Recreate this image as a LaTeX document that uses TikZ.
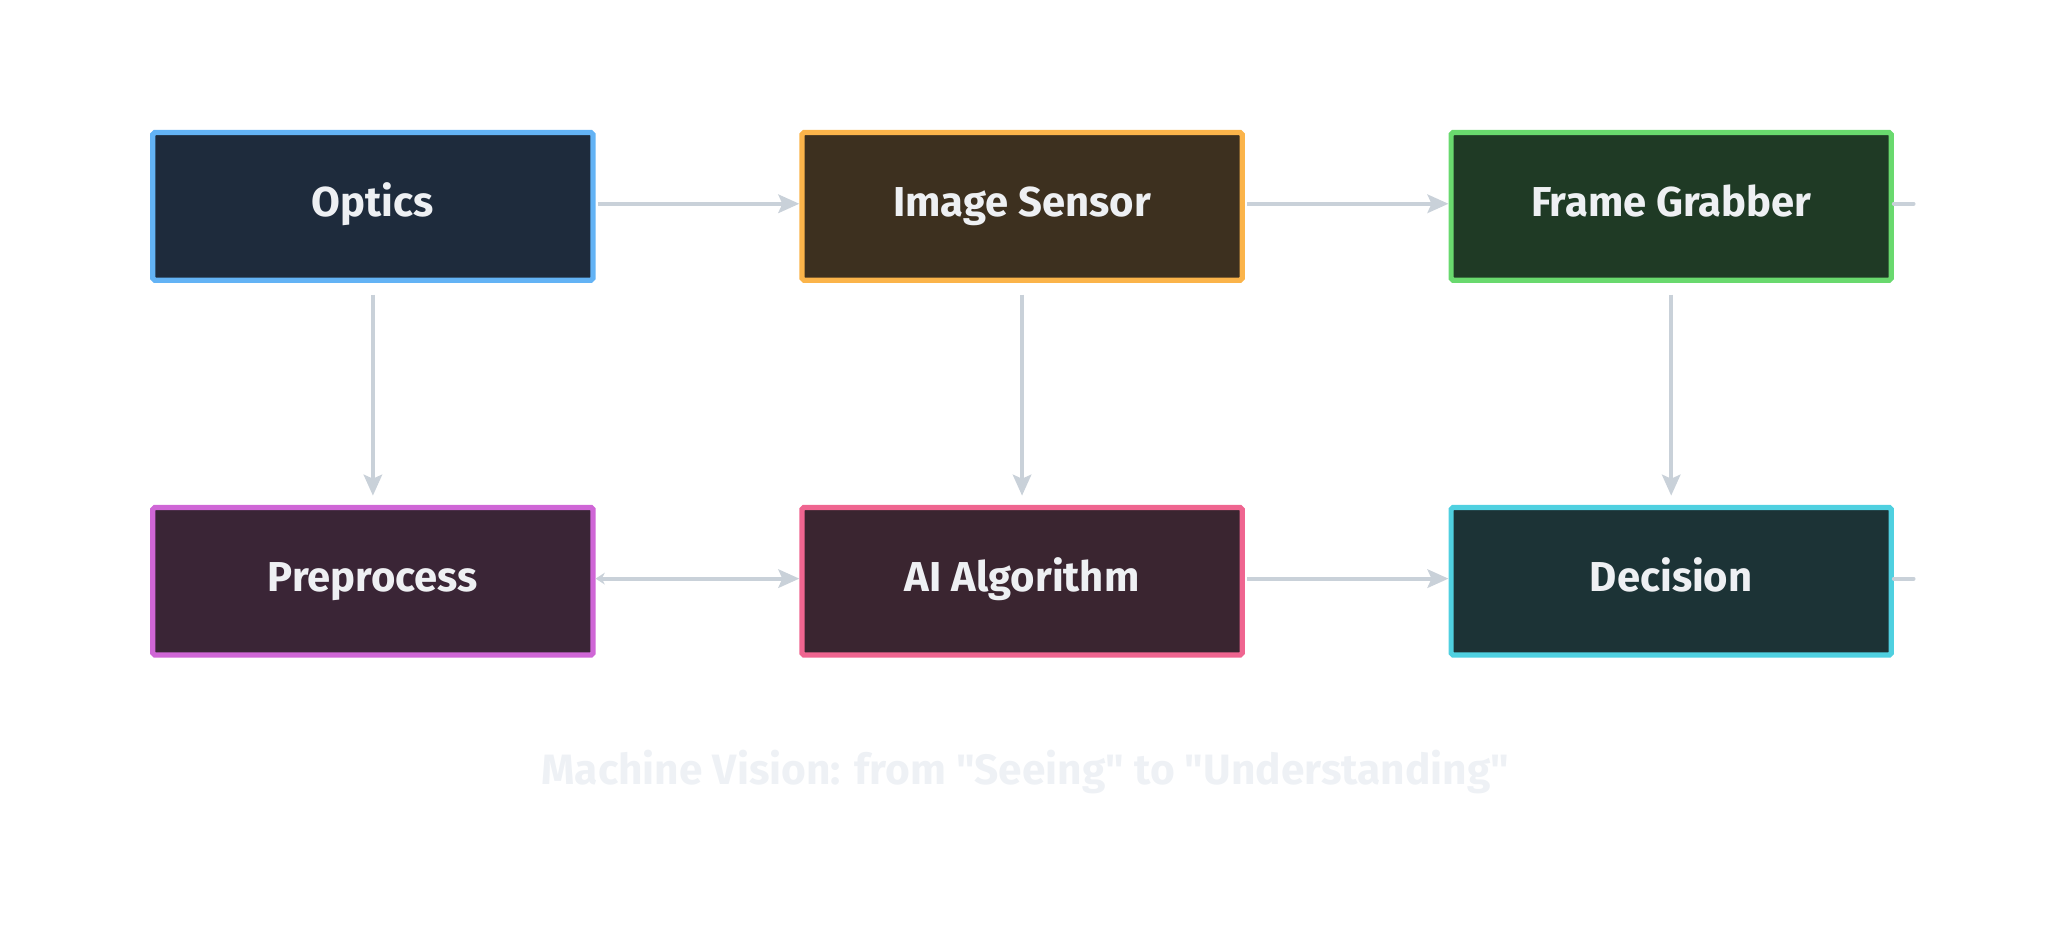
\documentclass[tikz,border=0pt]{standalone}
\usepackage{fontspec}
\setmainfont{Fira Sans}
\usetikzlibrary{arrows.meta}
\definecolor{txt}{HTML}{EEF0F3}
\definecolor{conn}{HTML}{C9D1D9}
\definecolor{ttl}{HTML}{EEF1F5}
\definecolor{bA}{HTML}{63B3F5}\definecolor{fA}{HTML}{1E2B3C}
\definecolor{bB}{HTML}{FBB44A}\definecolor{fB}{HTML}{3D301F}
\definecolor{bC}{HTML}{69D96E}\definecolor{fC}{HTML}{1F3A25}
\definecolor{bD}{HTML}{CF66D6}\definecolor{fD}{HTML}{3A2536}
\definecolor{bE}{HTML}{EF6590}\definecolor{fE}{HTML}{3A2530}
\definecolor{bF}{HTML}{4FD0E0}\definecolor{fF}{HTML}{1C3336}
\tikzset{
  stagebox/.style={draw, line width=4pt, rounded corners=1.5pt, minimum width=337pt, minimum height=113pt,
    text=txt, font=\fontsize{32}{36}\selectfont\bfseries, inner sep=0pt, text height=23pt, text depth=7pt},
  flow/.style={draw=conn, line width=3.2pt, -{Stealth[length=16pt,width=14pt,inset=3pt]}},
  flowv/.style={flow, shorten <=9pt, shorten >=7pt},
  stub/.style={draw=conn, line width=3.2pt, line cap=round}
}
\begin{document}
\begin{tikzpicture}[x=1pt,y=-1pt]
\useasboundingbox (0,0) rectangle (1568,726.6);
\node[stagebox, fill=fA, draw=bA] (optics) at (285.5,158) {Optics};
\node[stagebox, fill=fB, draw=bB] (sensor) at (782.5,158) {Image Sensor};
\node[stagebox, fill=fC, draw=bC] (grabber) at (1279.5,158) {Frame Grabber};
\node[stagebox, fill=fD, draw=bD] (pre) at (285.5,445) {Preprocess};
\node[stagebox, fill=fE, draw=bE] (ai) at (782.5,445) {AI Algorithm};
\node[stagebox, fill=fF, draw=bF] (dec) at (1279.5,445) {Decision};
\coordinate (s1) at (1465,156);
\coordinate (s2) at (1465,443);
\draw[flow, shorten <=2pt] ([yshift=2pt]optics.east) -- ([yshift=2pt]sensor.west);
\draw[flow, shorten <=2pt] ([yshift=2pt]sensor.east) -- ([yshift=2pt]grabber.west);
\draw[flow, {Stealth[length=7pt,width=9pt]}-{Stealth[length=16pt,width=14pt,inset=3pt]}] ([yshift=2pt]pre.east) -- ([yshift=2pt]ai.west);
\draw[flow, shorten <=2pt] ([yshift=2pt]ai.east) -- ([yshift=2pt]dec.west);
\draw[flowv] (optics.south) -- (pre.north);
\draw[flowv] (sensor.south) -- (ai.north);
\draw[flowv] (grabber.south) -- (dec.north);
\draw[stub] ([yshift=2pt]grabber.east) -- (s1);
\draw[stub] ([yshift=2pt]dec.east) -- (s2);
\node[text=ttl, font=\fontsize{32.5}{36}\selectfont\bfseries] (title) at (785,591) {Machine Vision: from \textquotedbl Seeing\textquotedbl{} to \textquotedbl Understanding\textquotedbl};
\end{tikzpicture}
\end{document}
